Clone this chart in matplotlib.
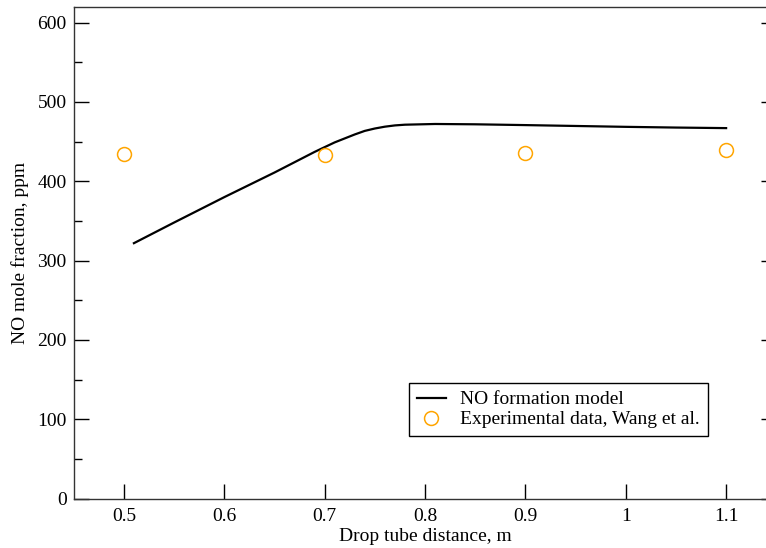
import numpy as np
from matplotlib import pyplot as plt
from matplotlib.ticker import MultipleLocator

plt.rcParams['font.family'] = ['Liberation Serif', 'DejaVu Serif']
plt.rcParams['font.size'] = 14

# model curve
model_x = [0.51, 0.55, 0.60, 0.65, 0.69, 0.71, 0.73, 0.74, 0.75, 0.76,
           0.77, 0.78, 0.81, 0.85, 0.90, 0.95, 1.00, 1.05, 1.10]
model_y = [322, 348, 380, 411, 437, 449, 459, 463.5, 466.5, 468.8,
           470.4, 471.3, 472.2, 471.8, 470.8, 469.7, 468.6, 467.7, 467.0]

# experimental points
exp_x = [0.5, 0.7, 0.9, 1.1]
exp_y = [435, 433, 436, 440]

fig = plt.figure(figsize=(7.66, 5.48), dpi=100)
# axes run past the right edge of the picture, like the original crop
ax = fig.add_axes([73.7 / 766, 49.3 / 548, 702.6 / 766, 492.0 / 548])

ax.plot(model_x, model_y, color='black', lw=1.6, label='NO formation model')
ax.plot(exp_x, exp_y, ls='none', marker='o', ms=10, mfc='none', mec='#ffa500',
        mew=1.1, label='Experimental data, Wang et al.')

ax.set_xlim(0.45, 1.15)
ax.set_ylim(0, 620)
ax.yaxis.set_major_locator(MultipleLocator(100))
ax.yaxis.set_minor_locator(MultipleLocator(50))
ax.set_xticks([0.5, 0.6, 0.7, 0.8, 0.9, 1.0, 1.1])
ax.set_xticklabels(['0.5', '0.6', '0.7', '0.8', '0.9', '1', '1.1'])

ax.tick_params(which='both', direction='in', top=False, right=True, width=1.0)
ax.tick_params(which='major', length=11)
ax.tick_params(which='minor', length=6)
ax.tick_params(axis='x', pad=7)
ax.tick_params(axis='y', pad=5)
for s in ax.spines.values():
    s.set_linewidth(1.0)
    s.set_color('#333333')

ax.set_xlabel('Drop tube distance, m', labelpad=2)
ax.set_ylabel('NO mole fraction, ppm', labelpad=6)

leg = ax.legend(loc='upper left', bbox_to_anchor=(0.477, 0.235), borderaxespad=0,
                fancybox=False, framealpha=1, edgecolor='black',
                handlelength=1.5, handletextpad=0.75, borderpad=0.4,
                labelspacing=0.12, fontsize=14)
leg.get_frame().set_linewidth(1.0)

fig.savefig('out.png', dpi=100)
